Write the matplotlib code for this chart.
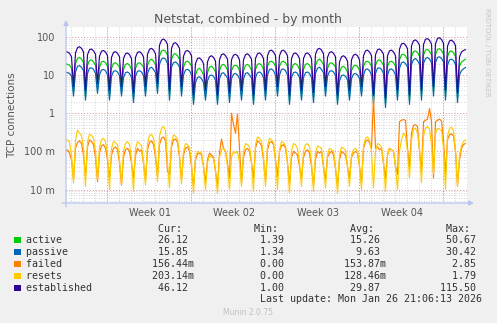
import numpy as np
import matplotlib
matplotlib.use("Agg")
import matplotlib.pyplot as plt
from matplotlib.patches import Rectangle

W, H = 497, 323

# samples every 4 hours; first sample sits 4 steps before the first night dip
STEP = 1.0 / 6
FIRST_DIP = 0.625

established = [
    41, 40, 37, 30,
    5, 38, 52, 55, 50, 40,
    4, 34, 46, 48, 43, 35,
    6, 31, 42, 44, 40, 32,
    4, 29, 39, 41, 37, 30,
    5, 27, 36, 38, 34, 27,
    3.5, 29, 39, 41, 37, 30,
    5, 35, 47, 50, 45, 36,
    6, 60, 82, 88, 80, 63,
    4, 50, 67, 70, 62, 50,
    5, 31, 42, 44, 40, 32,
    3, 20, 27, 28, 25, 20,
    4, 22, 30, 32, 29, 23,
    3, 25, 34, 36, 32, 26,
    3.5, 25, 33, 35, 32, 25,
    4, 25, 34, 36, 32, 26,
    3, 27, 36, 38, 34, 27,
    4, 32, 43, 45, 40, 32,
    5, 32, 43, 45, 40, 32,
    3, 27, 36, 38, 34, 27,
    4, 27, 36, 38, 34, 27,
    3.5, 35, 47, 50, 45, 36,
    5, 29, 39, 41, 37, 30,
    3, 22, 30, 32, 29, 23,
    4, 25, 33, 35, 32, 25,
    5, 32, 43, 45, 40, 32,
    3, 34, 46, 48, 43, 35,
    2.5, 32, 43, 45, 40, 32,
    4, 48, 65, 68, 61, 49,
    3, 58, 79, 83, 75, 60,
    4, 63, 86, 90, 81, 65,
    5, 66, 90, 95, 85, 68,
    4, 57, 78, 82, 74, 59,
    3.5, 30, 40, 44, 46,
]

active = [
    20, 19, 18, 15,
    3.5, 20, 27, 29, 26, 21,
    2.8, 18, 24, 25, 22, 18,
    4.2, 16, 22, 23, 21, 17,
    2.8, 15, 20, 21, 19, 16,
    3.5, 14, 19, 20, 18, 14,
    2.5, 15, 20, 21, 19, 16,
    3.5, 18, 24, 26, 23, 19,
    4.2, 31, 43, 45, 42, 33,
    2.8, 26, 35, 36, 32, 26,
    3.5, 16, 22, 23, 21, 17,
    2.1, 10, 14, 15, 13, 10,
    2.8, 11.5, 16, 17, 15, 12,
    2.1, 13, 18, 19, 17, 13.5,
    2.5, 13, 17, 18, 17, 13,
    2.8, 13, 18, 19, 17, 13.5,
    2.1, 14, 19, 20, 18, 14,
    2.8, 17, 22, 23, 21, 17,
    3.5, 17, 22, 23, 21, 17,
    2.1, 14, 19, 20, 18, 14,
    2.8, 14, 19, 20, 18, 14,
    2.5, 18, 24, 26, 23, 19,
    3.5, 15, 20, 21, 19, 16,
    2.1, 11.5, 16, 17, 15, 12,
    2.8, 13, 17, 18, 17, 13,
    3.5, 17, 22, 23, 21, 17,
    2.1, 18, 24, 25, 22, 18,
    1.8, 17, 22, 23, 21, 17,
    2.8, 25, 34, 35, 32, 25,
    2.1, 30, 41, 43, 39, 31,
    2.8, 33, 45, 47, 42, 34,
    3.5, 34, 47, 49, 44, 35,
    2.8, 30, 41, 43, 38, 31,
    2.5, 17, 22, 24, 26,
]

passive = [
    12, 11.5, 11, 9.5,
    2.8, 12, 17, 17.6, 16, 13,
    2.2, 11, 15, 15.4, 14, 11,
    3.3, 10, 13.5, 14, 13, 10,
    2.2, 9.3, 12.5, 13, 12, 9.6,
    2.8, 8.6, 11.5, 12, 11, 8.6,
    1.9, 9.3, 12.5, 13, 12, 9.6,
    2.8, 11, 15, 16, 14, 11.5,
    3.3, 19, 26, 28, 26, 20,
    2.2, 16, 21, 22, 20, 16,
    2.8, 10, 13.5, 14, 13, 10,
    1.7, 6.4, 8.6, 9, 8, 6.4,
    2.2, 7, 9.6, 10, 9.3, 7.4,
    1.7, 8, 11, 11.5, 10, 8.3,
    1.9, 8, 10.5, 11, 10, 8,
    2.2, 8, 11, 11.5, 10, 8.3,
    1.7, 8.6, 11.5, 12, 11, 8.6,
    2.2, 10, 14, 14.4, 13, 10,
    2.8, 10, 14, 14.4, 13, 10,
    1.7, 8.6, 11.5, 12, 11, 8.6,
    2.2, 8.6, 11.5, 12, 11, 8.6,
    1.9, 11, 15, 16, 14, 11.5,
    2.8, 9.3, 12.5, 13, 12, 9.6,
    1.7, 7, 9.6, 10, 9.3, 7.4,
    2.2, 8, 10.5, 11, 10, 8,
    2.8, 10, 14, 14.4, 13, 10,
    1.7, 11, 15, 15.4, 14, 11,
    1.4, 10, 14, 14.4, 13, 10,
    2.2, 15, 21, 22, 20, 16,
    1.7, 19, 25, 27, 24, 19,
    2.2, 20, 27, 29, 26, 21,
    2.8, 21, 29, 30, 27, 22,
    2.2, 18, 25, 26, 24, 19,
    1.9, 10, 13, 14.5, 15.8,
]

failed = [
    0.1, 0.11, 0.09, 0.06,
    0.018, 0.12, 0.17, 0.19, 0.16, 0.08,
    0.022, 0.13, 0.2, 0.18, 0.15, 0.07,
    0.016, 0.09, 0.14, 0.15, 0.12, 0.06,
    0.02, 0.08, 0.12, 0.13, 0.11, 0.05,
    0.013, 0.07, 0.11, 0.12, 0.1, 0.05,
    0.02, 0.08, 0.12, 0.1, 0.11, 0.05,
    0.017, 0.11, 0.17, 0.19, 0.15, 0.07,
    0.022, 0.15, 0.22, 0.24, 0.19, 0.03,
    0.025, 0.13, 0.2, 0.21, 0.17, 0.07,
    0.018, 0.08, 0.12, 0.13, 0.1, 0.04,
    0.012, 0.06, 0.085, 0.09, 0.08, 0.04,
    0.015, 0.06, 0.09, 0.08, 0.07, 0.03,
    0.012, 0.09, 0.21, 0.12, 0.1, 0.05,
    0.02, 1.0, 0.5, 0.3, 0.95, 0.12,
    0.015, 0.07, 0.11, 0.12, 0.1, 0.05,
    0.02, 0.12, 0.19, 0.17, 0.14, 0.06,
    0.016, 0.11, 0.17, 0.18, 0.15, 0.06,
    0.022, 0.1, 0.14, 0.15, 0.12, 0.05,
    0.014, 0.07, 0.1, 0.09, 0.08, 0.04,
    0.02, 0.07, 0.1, 0.11, 0.09, 0.04,
    0.013, 0.06, 0.1, 0.09, 0.1, 0.04,
    0.018, 0.07, 0.09, 0.1, 0.08, 0.035,
    0.012, 0.06, 0.1, 0.09, 0.08, 0.04,
    0.02, 0.07, 0.09, 0.1, 0.09, 0.04,
    0.015, 0.12, 0.18, 0.2, 0.17, 0.12,
    2.7, 0.12, 0.13, 0.11, 0.12, 0.05,
    0.02, 0.08, 0.12, 0.11, 0.1, 0.04,
    0.025, 0.6, 0.65, 0.68, 0.65, 0.12,
    0.04, 0.3, 0.48, 0.5, 0.45, 0.1,
    0.03, 0.6, 0.65, 0.7, 1.33, 0.6,
    0.02, 0.6, 0.65, 0.7, 0.62, 0.2,
    0.025, 0.2, 0.27, 0.29, 0.25, 0.1,
    0.013, 0.06, 0.12, 0.15, 0.16,
]

resets = [
    0.19, 0.2, 0.17, 0.08,
    0.015, 0.2, 0.36, 0.3, 0.26, 0.12,
    0.012, 0.18, 0.28, 0.26, 0.22, 0.1,
    0.018, 0.13, 0.2, 0.22, 0.18, 0.08,
    0.01, 0.12, 0.18, 0.17, 0.15, 0.06,
    0.014, 0.1, 0.16, 0.18, 0.15, 0.06,
    0.009, 0.12, 0.18, 0.16, 0.14, 0.05,
    0.013, 0.16, 0.26, 0.28, 0.22, 0.09,
    0.016, 0.25, 0.4, 0.45, 0.35, 0.05,
    0.011, 0.17, 0.27, 0.25, 0.21, 0.08,
    0.014, 0.1, 0.16, 0.15, 0.13, 0.05,
    0.008, 0.07, 0.1, 0.095, 0.09, 0.04,
    0.01, 0.05, 0.078, 0.07, 0.065, 0.03,
    0.008, 0.07, 0.11, 0.12, 0.1, 0.04,
    0.01, 0.07, 0.1, 0.09, 0.1, 0.05,
    0.012, 0.1, 0.16, 0.15, 0.13, 0.05,
    0.009, 0.15, 0.24, 0.22, 0.18, 0.07,
    0.012, 0.14, 0.22, 0.2, 0.17, 0.06,
    0.01, 0.11, 0.18, 0.17, 0.14, 0.05,
    0.008, 0.1, 0.16, 0.15, 0.12, 0.05,
    0.012, 0.1, 0.15, 0.16, 0.13, 0.05,
    0.009, 0.09, 0.14, 0.13, 0.12, 0.04,
    0.011, 0.08, 0.12, 0.11, 0.1, 0.04,
    0.008, 0.08, 0.13, 0.12, 0.11, 0.04,
    0.012, 0.08, 0.11, 0.12, 0.1, 0.04,
    0.01, 0.14, 0.22, 0.24, 0.2, 0.1,
    0.011, 0.1, 0.16, 0.15, 0.13, 0.05,
    0.009, 0.08, 0.12, 0.11, 0.1, 0.04,
    0.01, 0.1, 0.2, 0.3, 0.25, 0.1,
    0.02, 0.2, 0.38, 0.4, 0.3, 0.12,
    0.015, 0.25, 0.4, 0.45, 0.38, 0.15,
    0.025, 0.3, 0.4, 0.38, 0.35, 0.12,
    0.01, 0.25, 0.4, 0.43, 0.35, 0.1,
    0.012, 0.08, 0.14, 0.18, 0.2,
]

series_names = ["active", "passive", "failed", "resets", "established"]
series_colors = ["#00CC00", "#0066B3", "#FF8000", "#FFCC00", "#330099"]
series_data = [active, passive, failed, resets, established]

legend_cur = ["26.12", "15.85", "156.44m", "203.14m", "46.12"]
legend_min = ["1.39", "1.34", "0.00", "0.00", "1.00"]
legend_avg = ["15.26", "9.63", "153.87m", "128.46m", "29.87"]
legend_max = ["50.67", "30.42", "2.85", "1.79", "115.50"]

week_ticks = [7, 14, 21, 28]
week_labels = ["Week 01", "Week 02", "Week 03", "Week 04"]
week_starts = [3.4167 + 7 * k for k in range(5)]
y_ticks = [0.01, 0.1, 1, 10, 100]
y_labels = ["10 m", "100 m", "1", "10", "100"]

TEXT = "#555555"


def fx(x):
    return x / W


def fy(y):
    return 1 - y / H


fig = plt.figure(figsize=(W / 100, H / 100), dpi=100, facecolor="#F0F0F0")
ax = fig.add_axes([fx(66), fy(203), (467 - 66) / W, (203 - 27) / H])
ax.set_facecolor("white")
ax.set_yscale("log")
ax.set_xlim(0, 401 / 12)
ax.set_ylim(0.00443, 181)

# grid: daily / weekly verticals, log minor / decade horizontals
dot = (0, (1, 2))
for d in np.arange(week_starts[0] - 3, 34, 1.0):
    ax.axvline(d, color="#C8C8C8", lw=0.6, ls=dot, zorder=0)
for d in week_starts:
    ax.axvline(d, color="#E09090", lw=0.7, ls=dot, zorder=0.5)
for n in range(-3, 3):
    for k in range(2, 10):
        v = k * 10.0 ** n
        if 0.00443 < v < 181:
            ax.axhline(v, color="#C8C8C8", lw=0.6, ls=dot, zorder=0)
for v in y_ticks:
    ax.axhline(v, color="#E09090", lw=0.7, ls=dot, zorder=0.5)

for vals, col in zip(series_data, series_colors):
    t = FIRST_DIP + (np.arange(len(vals)) - 4) * STEP
    ax.plot(t, vals, color=col, lw=0.85, zorder=2)

ax.set_yticks(y_ticks)
ax.set_yticklabels(y_labels)
ax.yaxis.set_minor_locator(matplotlib.ticker.NullLocator())
ax.set_xticks(week_ticks)
ax.set_xticklabels(week_labels)
ax.tick_params(axis="y", length=0, pad=8, labelsize=7, labelcolor=TEXT)
ax.tick_params(axis="x", length=0, pad=3.5, labelsize=7, labelcolor=TEXT)
for s in ax.spines.values():
    s.set_visible(False)

# axis lines with arrow heads
arrow = dict(arrowstyle="-|>", color="#B8C4F0", lw=0.9, mutation_scale=7,
             shrinkA=0, shrinkB=0)
ax.annotate("", xy=(66, H - 20), xytext=(66, H - 207),
            xycoords="figure pixels", arrowprops=arrow)
ax.annotate("", xy=(474, H - 203), xytext=(62, H - 203),
            xycoords="figure pixels", arrowprops=arrow)

fig.text(fx(248), fy(19), "Netstat, combined - by month", ha="center",
         va="center", fontsize=9, color=TEXT)
fig.text(fx(12), fy(115), "TCP connections", rotation=90, ha="center",
         va="center", fontsize=7.5, color=TEXT)
fig.text(fx(487), fy(52), "RRDTOOL / TOBI OETIKER", rotation=270,
         ha="center", va="center", fontsize=5, color="#C4C4C4")


def legend_row(label, vals):
    line = [" "] * 80
    line[0:len(label)] = label
    for end, v in zip((27, 43, 59, 75), vals):
        num = v.rstrip("m")
        start = end - len(num)
        line[start:start + len(v)] = v
    return "".join(line).rstrip()


mono = dict(family="DejaVu Sans Mono", fontsize=7.2, color="#333333",
            va="center", ha="left")
header = [" "] * 80
for end, h in zip((26, 42, 58, 74), ("Cur:", "Min:", "Avg:", "Max:")):
    header[end - len(h):end] = h
fig.text(fx(26), fy(228.5), "".join(header).rstrip(), **mono)

for i, name in enumerate(series_names):
    yc = 240 + 12 * i
    vals = [legend_cur[i], legend_min[i], legend_avg[i], legend_max[i]]
    fig.text(fx(26), fy(yc), legend_row(name, vals), **mono)
    fig.add_artist(Rectangle((fx(14), fy(yc + 3.2)), 6.5 / W, 6.5 / H,
                             transform=fig.transFigure,
                             facecolor=series_colors[i], edgecolor="none"))

fig.text(fx(26 + 6 * 39), fy(299.5), "Last update: Mon Jan 26 21:06:13 2026",
         **mono)
fig.text(fx(248), fy(312.5), "Munin 2.0.75", ha="center", va="center",
         fontsize=5.5, color="#C0C0C0")

fig.savefig("out.png", dpi=100, facecolor=fig.get_facecolor())
